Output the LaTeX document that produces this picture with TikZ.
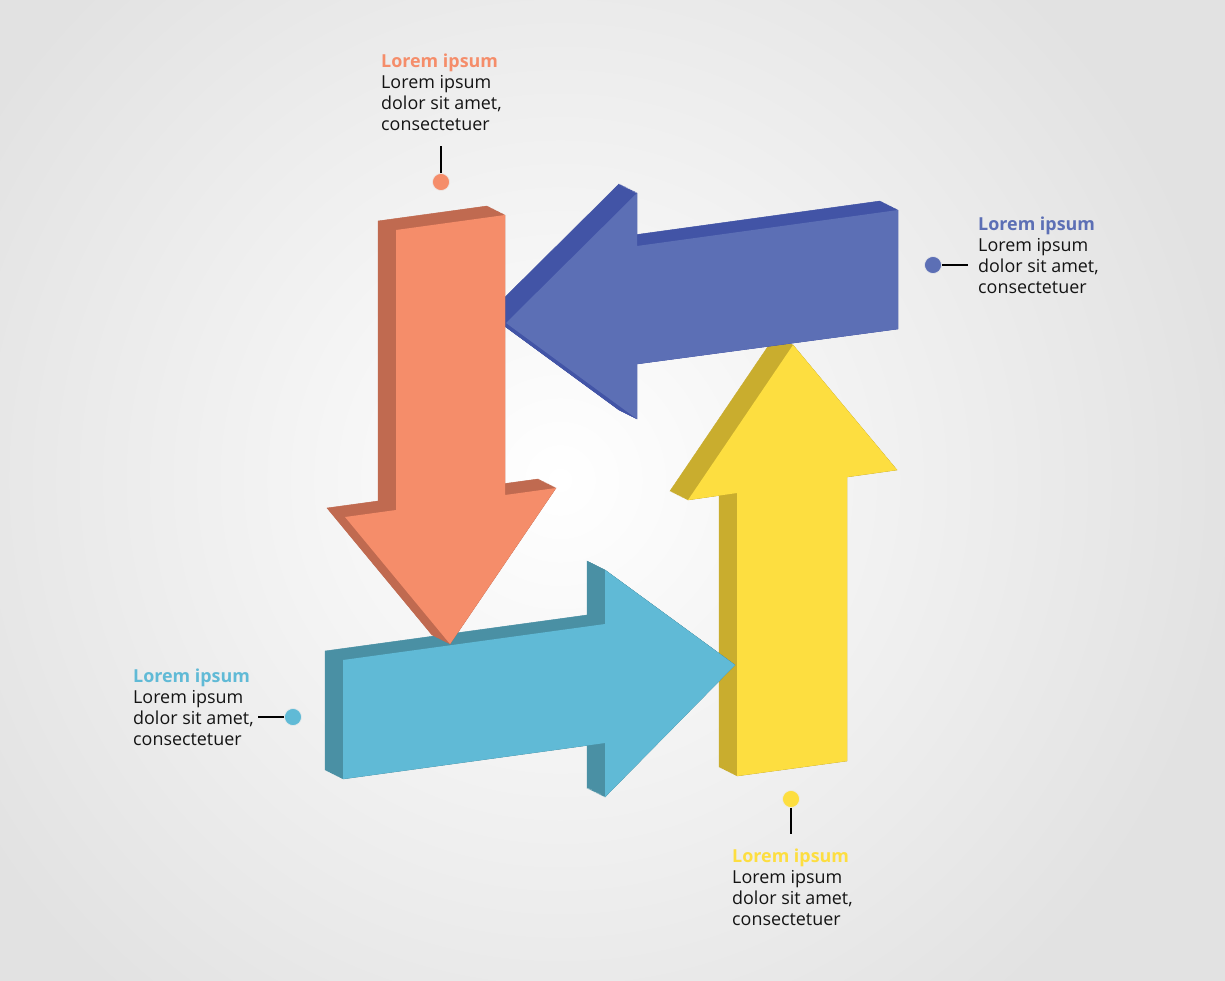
\documentclass[tikz,border=0pt]{standalone}
\usepackage{fontspec}
\setmainfont{Open Sans}
\definecolor{orF}{RGB}{245,141,106}
\definecolor{orD}{RGB}{192,106,80}
\definecolor{blF}{RGB}{92,111,181}
\definecolor{blD}{RGB}{66,84,166}
\definecolor{cyF}{RGB}{96,186,214}
\definecolor{cyD}{RGB}{74,144,164}
\definecolor{yeF}{RGB}{253,222,64}
\definecolor{yeD}{RGB}{201,173,46}
\definecolor{bgO}{RGB}{226,226,226}
\definecolor{txt}{RGB}{20,20,20}
\newcommand\solidarrow[3]{%
  \foreach \i in {0,...,20}{\fill[#2, draw=#2, line width=0.4pt, shift={(-0.9*\i,-0.45*\i)}] #3;}
  \fill[#1] #3;
}
\begin{document}
\begin{tikzpicture}[x=1pt,y=-1pt,
  lbl/.style={anchor=north west, align=left, inner sep=0pt, text=txt,
    font=\fontsize{17.9}{21.2}\selectfont},
  dotnode/.style={circle, inner sep=0pt, minimum size=17pt, draw=white!85!gray, line width=0.6pt},
  lead/.style={draw=black, line width=1.3pt}]
\useasboundingbox (0,0) rectangle (1225,980);
\fill[bgO] (-2,-2) rectangle (1227,982);
\begin{scope}
\clip (0,0) rectangle (1225,980);
\shade[inner color=white, outer color=bgO] (560,480) circle (680);
\end{scope}

% yellow (up)
\solidarrow{yeF}{yeD}{(793,345) -- (897,470) -- (847,477) -- (847,761) -- (737,776) -- (737,493) -- (688,500) -- cycle}
% blue (left)
\solidarrow{blF}{blD}{(506,323) -- (637,193) -- (637,246) -- (898,210) -- (898,329) -- (637,364) -- (637,419) -- cycle}
% cyan (right)
\solidarrow{cyF}{cyD}{(343,660) -- (605,624) -- (605,570) -- (735,665) -- (605,797) -- (605,743) -- (343,779) -- cycle}
% orange (down)
\solidarrow{orF}{orD}{(396,230) -- (505,215) -- (505,495) -- (556,488) -- (450,644) -- (345,517) -- (396,510) -- cycle}

% labels
\node[lbl] (t1) at (381,53.5) {\textcolor{orF}{\bfseries Lorem ipsum}\\Lorem ipsum\\dolor sit amet,\\consectetuer};
\node[dotnode, fill=orF] (d1) at (441,182) {};
\coordinate (c1) at (441,146);
\draw[lead] (d1) -- (c1);

\node[lbl] (t2) at (978,216.5) {\textcolor{blF}{\bfseries Lorem ipsum}\\Lorem ipsum\\dolor sit amet,\\consectetuer};
\node[dotnode, fill=blF] (d2) at (933,265) {};
\coordinate (c2) at (968,265);
\draw[lead] (d2) -- (c2);

\node[lbl] (t3) at (133,668.5) {\textcolor{cyF}{\bfseries Lorem ipsum}\\Lorem ipsum\\dolor sit amet,\\consectetuer};
\node[dotnode, fill=cyF] (d3) at (293,717) {};
\coordinate (c3) at (258,717);
\draw[lead] (d3) -- (c3);

\node[lbl] (t4) at (732,848.5) {\textcolor{yeF}{\bfseries Lorem ipsum}\\Lorem ipsum\\dolor sit amet,\\consectetuer};
\node[dotnode, fill=yeF] (d4) at (791,799) {};
\coordinate (c4) at (791,834);
\draw[lead] (d4) -- (c4);
\end{tikzpicture}
\end{document}
